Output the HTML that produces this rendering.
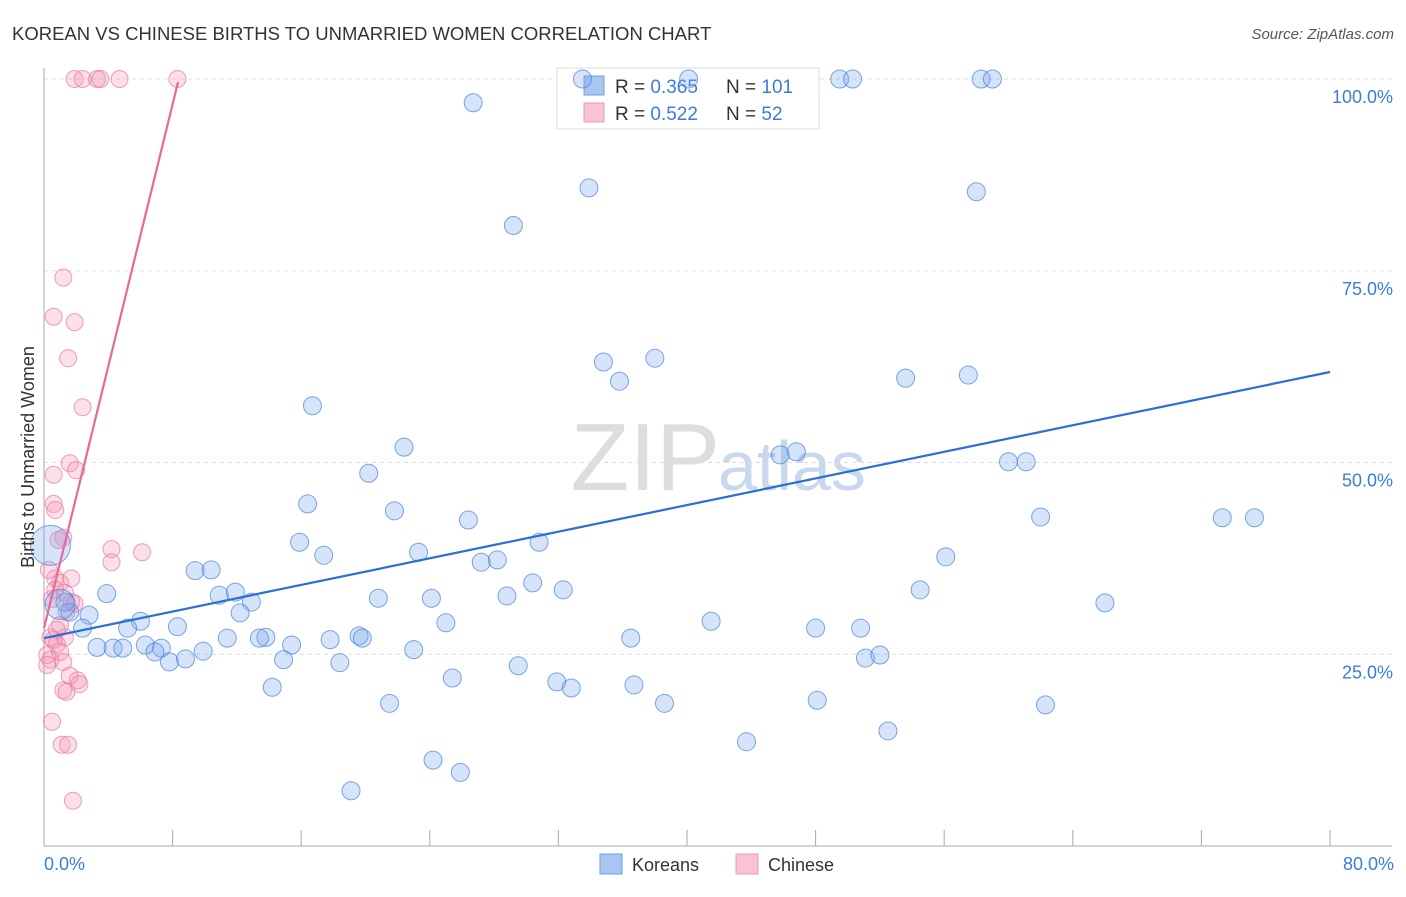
<!DOCTYPE html>
<html><head><meta charset="utf-8"><style>
body{margin:0;background:#fff;font-family:"Liberation Sans",sans-serif;}
svg text{font-family:"Liberation Sans",sans-serif;}
</style></head><body>
<svg id="chart" width="1406" height="892">
<text x="12" y="40" font-size="18.5" fill="#333">KOREAN VS CHINESE BIRTHS TO UNMARRIED WOMEN CORRELATION CHART</text>
<text x="1394" y="39" font-size="15" fill="#555" text-anchor="end" font-style="italic">Source: ZipAtlas.com</text>
<text x="720" y="490" font-size="96" fill="#ddd" text-anchor="end" font-family="Liberation Serif">ZIP</text>
<text x="718" y="490" font-size="70" fill="#c8d8ee">atlas</text>
<g id="grid"></g>
<g>
<rect x="557" y="68" width="262" height="61" fill="#fff" stroke="#ddd"/>
<rect x="584" y="76" width="20" height="19" fill="#a9c6f0" stroke="#6f9fe0"/>
<rect x="584" y="103" width="20" height="19" fill="#f8c3d3" stroke="#ee9ab4"/>
<text x="615" y="93" font-size="19" fill="#333">R = <tspan fill="#3b7dd8">0.365</tspan></text>
<text x="726" y="93" font-size="19" fill="#333">N = <tspan fill="#3b7dd8">101</tspan></text>
<text x="615" y="120" font-size="19" fill="#333">R = <tspan fill="#3b7dd8">0.522</tspan></text>
<text x="726" y="120" font-size="19" fill="#333">N = <tspan fill="#3b7dd8"> 52</tspan></text>
</g>
<g id="pts"></g><g id="lines"></g>
<text transform="translate(34,457) rotate(-90)" font-size="18" fill="#333" text-anchor="middle">Births to Unmarried Women</text>
<text x="44" y="870" font-size="18" fill="#3b7dd8">0.0%</text>
<text x="1394" y="870" font-size="18" fill="#3b7dd8" text-anchor="end">80.0%</text>
<g>
<rect x="600" y="854" width="22" height="20" fill="#a9c6f0" stroke="#6f9fe0"/>
<text x="632" y="871" font-size="18" fill="#333">Koreans</text>
<rect x="736" y="854" width="22" height="20" fill="#f8c3d3" stroke="#ee9ab4"/>
<text x="768" y="871" font-size="18" fill="#333">Chinese</text>
</g>
</svg>
<script>
const yTicks=[25,50,75,100];
const yTickLabels=["25.0%","50.0%","75.0%","100.0%"];
const xTicks=[0,8,16,24,32,40,48,56,64,72,80];
const koreanX=[33.5,40.1,49.5,50.3,58.3,59.0,26.7,33.9,58.0,29.2,34.8,38.0,35.8,53.6,57.5,16.7,22.4,45.8,46.8,60.0,61.1,20.2,16.4,21.8,26.4,62.0,73.3,75.3,15.9,30.8,23.3,17.4,27.2,28.2,56.1,9.4,10.4,3.9,10.9,11.9,12.9,30.4,32.3,28.8,20.8,24.1,54.5,66.0,12.2,6.0,2.8,1.6,1.3,2.4,5.2,8.3,25.0,41.5,48.0,50.8,13.8,11.4,13.4,17.8,19.6,19.8,36.5,3.3,4.3,4.9,6.3,7.3,6.9,9.9,15.4,23.0,7.8,8.8,14.9,18.4,29.5,51.1,52.0,25.4,31.9,32.8,36.7,14.2,21.5,38.6,48.1,62.3,43.7,52.5,24.2,25.9,19.1,0.4,1.0];
const koreanY=[100,100,100,100,100,100,96.9,85.8,85.3,80.9,63.1,63.6,60.6,61.0,61.4,57.4,52.0,51.0,51.4,50.1,50.1,48.6,44.6,43.7,42.5,42.9,42.8,42.8,39.6,39.6,38.3,37.9,37.0,37.3,37.7,35.9,36.0,32.9,32.7,33.1,31.8,34.3,33.4,32.6,32.3,32.3,33.4,31.7,30.4,29.3,30.1,30.5,31.8,28.4,28.4,28.6,29.1,29.3,28.4,28.4,27.2,27.1,27.1,26.9,27.4,27.1,27.1,25.9,25.8,25.8,26.2,25.8,25.3,25.4,26.2,25.6,24.0,24.4,24.3,23.9,23.5,24.5,24.9,21.9,21.4,20.6,21.0,20.7,18.6,18.6,19.0,18.4,13.6,15.0,11.2,9.6,7.2,39.2,31.5];
const koreanR=[9,9,9,9,9,9,9,9,9,9,9,9,9,9,9,9,9,9,9,9,9,9,9,9,9,9,9,9,9,9,9,9,9,9,9,9,9,9,9,9,9,9,9,9,9,9,9,9,9,9,9,9,9,9,9,9,9,9,9,9,9,9,9,9,9,9,9,9,9,9,9,9,9,9,9,9,9,9,9,9,9,9,9,9,9,9,9,9,9,9,9,9,9,9,9,9,9,20,15];
const chineseX=[1.9,2.4,3.3,3.5,4.7,8.3,1.2,0.6,1.9,1.5,2.4,1.6,2.0,0.6,0.6,0.7,1.2,0.9,4.2,6.1,4.2,0.7,1.0,1.7,1.3,0.5,1.7,1.9,1.4,1.3,0.4,0.8,0.2,0.4,1.0,1.2,1.6,2.1,1.2,1.4,2.2,0.5,1.1,1.5,1.8,0.6,0.2,1.0,0.8,0.3,0.7];
const chineseY=[100,100,100,100,100,100,74.1,69.0,68.3,63.6,57.2,49.9,49.0,48.4,44.6,43.8,40.2,39.9,38.7,38.3,37.0,34.9,34.3,34.9,33.0,32.2,31.8,31.6,30.5,27.2,27.2,26.3,24.9,24.3,25.3,24.0,22.2,21.6,20.3,20.1,21.1,16.2,13.2,13.2,5.9,26.9,23.6,28.8,28.2,36.0,33.4];
const koreanTrend=[27.1,61.8];
const chineseTrend=[28.4,99.6,8.34];
const X=v=>44+v*16.075, Y=v=>846-v*7.67;
const NS="http://www.w3.org/2000/svg";
function mk(t,a,p){const e=document.createElementNS(NS,t);for(const k in a)e.setAttribute(k,a[k]);p.appendChild(e);return e;}
const grid=document.getElementById('grid');
yTicks.forEach((t,i)=>{
 const l=mk('line',{x1:44,x2:1392,y1:Y(t),y2:Y(t),stroke:'#ddd','stroke-dasharray':'4,4'},grid);
 
 
 const tx=mk('text',{x:1393,y:Y(t)+24,'font-size':18,fill:'#3b7dd8','text-anchor':'end'},grid);
 tx.textContent=yTickLabels[i];
 
 
});
const ax=mk('line',{x1:44,x2:44,y1:68,y2:846,stroke:'#aaa'},grid);


const bx=mk('line',{x1:44,x2:1392,y1:846,y2:846,stroke:'#aaa'},grid);


xTicks.forEach(t=>{
 const l=mk('line',{x1:X(t),x2:X(t),y1:830,y2:846,stroke:'#aaa'},grid);
 
 
});
const pts=document.getElementById('pts');
chineseX.forEach((x,i)=>{
 const c=mk('circle',{cx:X(x),cy:Y(chineseY[i]),r:8.5,fill:'rgba(244,150,180,0.3)',stroke:'rgba(232,120,160,0.7)'},pts);
 
 
});
koreanX.forEach((x,i)=>{
 const c=mk('circle',{cx:X(x),cy:Y(koreanY[i]),r:koreanR[i],fill:'rgba(120,165,235,0.3)',stroke:'rgba(70,130,220,0.7)'},pts);
 
 
});
const lines=document.getElementById('lines');
const kl=mk('line',{x1:X(0),y1:Y(koreanTrend[0]),x2:X(80),y2:Y(koreanTrend[1]),stroke:'#2a6fd6','stroke-width':2.2},lines);


const cl=mk('line',{x1:X(0),y1:Y(chineseTrend[0]),x2:X(chineseTrend[2]),y2:Y(chineseTrend[1]),stroke:'#e8689a','stroke-width':2.2},lines);


</script>
</body></html>
